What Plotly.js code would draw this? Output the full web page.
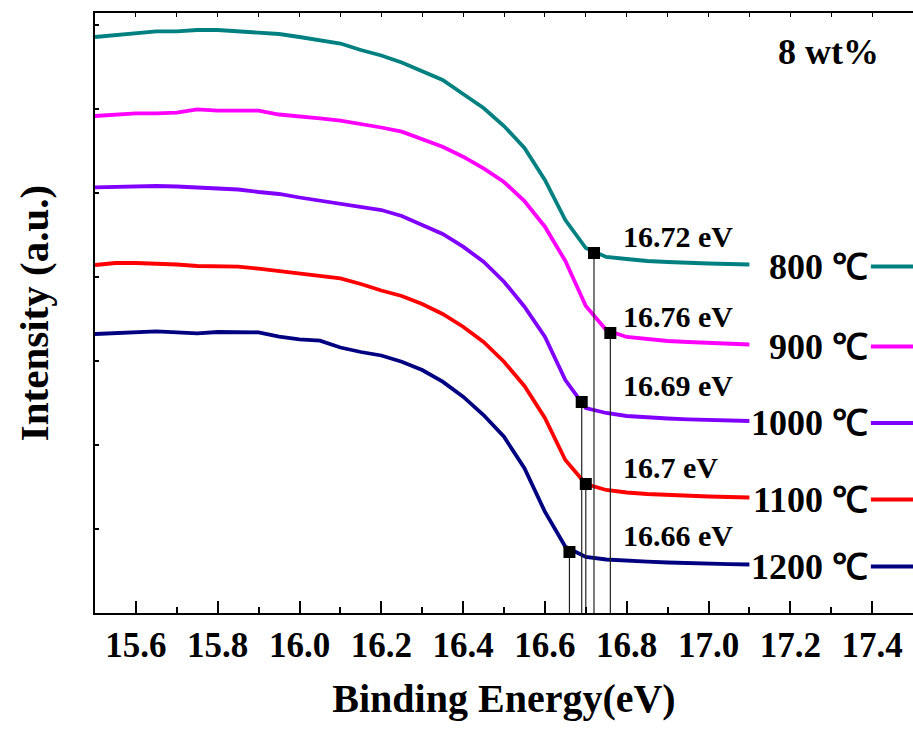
<!DOCTYPE html>
<html>
<head>
<meta charset="utf-8">
<script src="https://cdn.plot.ly/plotly-3.0.1.min.js"></script>
<style>html,body{margin:0;padding:0;background:#fff;}#chart{width:913px;height:731px;}</style>
</head>
<body>
<div id="chart"></div>
<script>
// Binding energy grid (eV)
const energy = [15.5, 15.55, 15.6, 15.65, 15.7, 15.75, 15.8, 15.85, 15.9, 15.95,
  16.0, 16.05, 16.1, 16.15, 16.2, 16.25, 16.3, 16.35, 16.4, 16.45,
  16.5, 16.55, 16.6, 16.65, 16.7, 16.75, 16.8, 16.85, 16.9, 16.95,
  17.0, 17.05, 17.1];

// Intensity (a.u., offset curves)
const i800 = [576, 578, 580.3, 581.7, 581.7, 583, 583, 581.7, 580.5, 579,
  576, 572.5, 569.5, 563, 557.5, 550.5, 541.5, 533, 519, 505,
  487, 465, 433, 393, 365, 356, 354, 352, 351, 350, 349.5, 349, 348.5];
const i900 = [497, 498.5, 499.7, 499.7, 500.3, 503.7, 502.3, 502.3, 502.3, 498.5,
  497, 494.7, 492.3, 489, 485.5, 481.3, 474, 466.3, 456.3, 444.7,
  431, 412, 386.3, 352, 307, 283, 276, 274, 272, 271, 270, 269, 268.5];
const i1000 = [425.7, 426.3, 426.7, 427, 426.5, 425.7, 424.5, 423.5, 421, 419,
  415.5, 412.3, 409.5, 406, 403, 397, 388, 379, 366.3, 351.3,
  331.3, 306.3, 276.3, 233, 205, 200, 197, 195.5, 194.5, 193.7, 193, 192.5, 192];
const i1100 = [348, 350, 350, 349.7, 348.5, 347, 346.3, 346.3, 344.3, 342,
  339.7, 337, 334.7, 329, 322.5, 317, 309, 299, 286.3, 271,
  251.3, 227, 195, 153, 129, 123, 120.5, 119, 118, 117, 116.5, 116, 115.5];
const i1200 = [279, 280, 280.3, 281.7, 280.7, 279.7, 281, 280.7, 280.7, 276.3,
  273.7, 272.3, 265.5, 261, 257.5, 251.3, 243, 231.3, 216.3, 198,
  176.3, 144.7, 101.3, 66.3, 56, 53.5, 52, 51.3, 50.5, 49.7, 49.2, 48.8, 48.5];

const seriesNames = ['800 ℃', '900 ℃', '1000 ℃', '1100 ℃', '1200 ℃'];
const seriesData = [i800, i900, i1000, i1100, i1200];
const seriesColors = ['#008080', '#FF00FF', '#8000FF', '#FF0000', '#000080'];

// Band-edge positions
const edgeEnergy = [16.72, 16.76, 16.69, 16.70, 16.66];
const edgeIntensity = [360, 280, 211, 129, 61];

const noteText = '8 wt%';
const xTitle = 'Binding Energy(eV)';
const yTitle = 'Intensity (a.u.)';

const serif = 'Liberation Serif, Times New Roman, serif';
const traces = [];
seriesData.forEach((ys, k) => {
  traces.push({
    x: energy, y: ys, type: 'scatter', mode: 'lines',
    name: seriesNames[k], showlegend: false,
    line: {color: seriesColors[k], width: 3.8}, hoverinfo: 'skip'
  });
});
// drop lines
const dx = [], dy = [];
edgeEnergy.forEach((e, k) => { dx.push(e, e, null); dy.push(edgeIntensity[k], 0, null); });
traces.push({x: dx, y: dy, type: 'scatter', mode: 'lines', showlegend: false,
  line: {color: '#222', width: 1.2}, hoverinfo: 'skip'});
traces.push({x: edgeEnergy, y: edgeIntensity, type: 'scatter', mode: 'markers', showlegend: false,
  marker: {symbol: 'square', size: 12, color: '#000'}, hoverinfo: 'skip'});
// top axis carrier
traces.push({x: [], y: [], xaxis: 'x2', yaxis: 'y', type: 'scatter', showlegend: false});

const annotations = [];
const shapes = [];
edgeEnergy.forEach((e, k) => {
  annotations.push({x: 16.785, y: edgeIntensity[k] + 17, xref: 'x', yref: 'y',
    text: e + ' eV', showarrow: false, xanchor: 'left', yanchor: 'middle',
    font: {family: serif, size: 30, color: '#000', weight: 700}});
});
seriesData.forEach((ys, k) => {
  const ly = ys[ys.length - 1] - 2;
  annotations.push({x: 17.395, y: ly, xref: 'x', yref: 'y', text: seriesNames[k],
    showarrow: false, xanchor: 'right', yanchor: 'middle',
    font: {family: serif, size: 36, color: '#000', weight: 700}});
  shapes.push({type: 'line', xref: 'x', yref: 'y', x0: 17.397, x1: 17.6, y0: ly, y1: ly,
    line: {color: seriesColors[k], width: 3.8}});
});
annotations.push({x: (828 - 95) / 818, y: (613 - 52) / 600, xref: 'paper', yref: 'paper',
  text: noteText, showarrow: false, xanchor: 'center', yanchor: 'middle',
  font: {family: serif, size: 36, color: '#000', weight: 700}});

const layout = {
  width: 913, height: 731,
  margin: {l: 95, r: 0, t: 13, b: 118},
  paper_bgcolor: '#fff', plot_bgcolor: '#fff',
  showlegend: false,
  xaxis: {
    range: [15.5, 17.5], showgrid: false, zeroline: false,
    showline: true, linecolor: '#000', linewidth: 2,
    ticks: 'inside', ticklen: 12, tickwidth: 2, tickcolor: '#000',
    tick0: 15.6, dtick: 0.2, tickformat: '.1f',
    minor: {ticks: 'inside', ticklen: 6, tickwidth: 2, tickcolor: '#000', dtick: 0.1},
    tickfont: {family: serif, size: 35, color: '#000', weight: 700},
    title: {text: xTitle, standoff: 20, font: {family: serif, size: 40, color: '#000', weight: 700}}
  },
  xaxis2: {
    overlaying: 'x', side: 'top', matches: 'x', range: [15.5, 17.5],
    showgrid: false, zeroline: false, showline: true, linecolor: '#000', linewidth: 2,
    ticks: 'inside', ticklen: 4, tickwidth: 1, tickcolor: '#000', dtick: 0.1, tick0: 15.5,
    showticklabels: false
  },
  yaxis: {
    range: [0, 600], showgrid: false, zeroline: false,
    showline: true, linecolor: '#000', linewidth: 2,
    ticks: 'inside', ticklen: 4, tickwidth: 1.5, tickcolor: '#000',
    tick0: 0, dtick: 84, showticklabels: false,
    title: {text: yTitle, standoff: 32, font: {family: serif, size: 41, color: '#000', weight: 700}}
  },
  annotations: annotations,
  shapes: shapes
};

Plotly.newPlot('chart', traces, layout, {displayModeBar: false, staticPlot: true});
</script>
</body>
</html>
